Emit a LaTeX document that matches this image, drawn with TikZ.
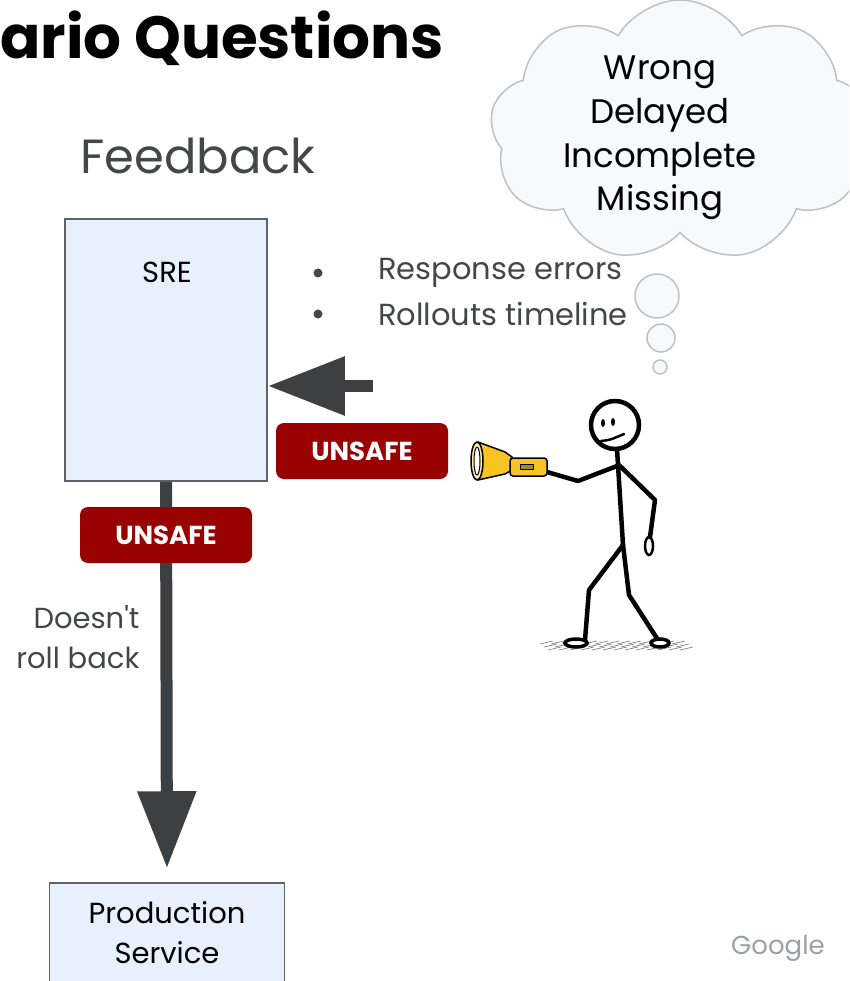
\documentclass[tikz,border=0pt]{standalone}
\usepackage{fontspec}
\setmainfont{Poppins}[Ligatures=TeXOff]
\usetikzlibrary{arrows.meta,shapes.symbols,positioning}

\definecolor{sreblue}{HTML}{E8F0FE}
\definecolor{edgegray}{HTML}{5F6368}
\definecolor{arrowgray}{HTML}{3C4043}
\definecolor{textgray}{HTML}{444746}
\definecolor{unsafered}{HTML}{990000}
\definecolor{cloudfill}{HTML}{F8F9FA}
\definecolor{cloudline}{HTML}{BDC1C6}
\definecolor{logogray}{HTML}{9AA0A6}
\definecolor{torch}{HTML}{F6C521}

\tikzset{
  box/.style={draw=edgegray, line width=1.5pt, fill=sreblue},
  badge/.style={fill=unsafered, rounded corners=8pt, minimum width=172pt,
    minimum height=56pt, text=white, font=\fontsize{26}{30}\selectfont\bfseries},
  flow/.style={draw=arrowgray, line width=12pt, -{Triangle[width=56pt,length=77pt]}},
  stick/.style={line width=4.5pt, line cap=round, line join=round},
  bubble/.style={draw=cloudline, fill=cloudfill, line width=1.5pt},
  gray text/.style={text=textgray, font=\fontsize{29}{40}\selectfont},
}

\begin{document}
\begin{tikzpicture}[x=1pt, y=-1pt]
    \useasboundingbox (0,0) rectangle (849,981);
    \clip (0,0) rectangle (849,981);

    % heading and column title
    \node[anchor=west, inner sep=0, font=\fontsize{59.5}{64}\selectfont\bfseries] (title) at (0,38) {ario Questions};
    \node[text=textgray, font=\fontsize{48}{56}\selectfont] (feedback) at (198,156) {Feedback};

    % boxes
    \node[box, minimum width=202pt, minimum height=262pt] (sre) at (166,350) {};
    \node[font=\fontsize{29}{36}\selectfont] (sretext) at (167,272) {SRE};
    \node[box, minimum width=235pt, minimum height=110pt] (prod) at (167,938) {};
    \node[font=\fontsize{29}{40}\selectfont] (prod1) at (167,913) {Production};
    \node[font=\fontsize{29}{40}\selectfont] (prod2) at (167,953) {Service};

    % arrows
    \coordinate (lamp) at (373,386);
    \draw[flow] (sre.south) -- (prod.north) [shorten >=14pt];
    \draw[flow] (lamp) -- (sre.east |- lamp);

    % badges
    \node[badge] (unsafe1) at (166,535) {UNSAFE};
    \node[badge] (unsafe2) at (362,451) {UNSAFE};

    % side notes
    \node[gray text, align=right, anchor=east] (rollback) at (143,637) {Doesn't\\roll back};
    \fill[textgray] (318,273) circle (4.5pt) (318,314) circle (4.5pt);
    \node[gray text, anchor=west, inner sep=0, font=\fontsize{30.5}{40}\selectfont] (errors) at (378,273) {Response errors};
    \node[gray text, anchor=west, inner sep=0, font=\fontsize{30.5}{40}\selectfont] (timeline) at (378,314) {Rollouts timeline};

    % thought cloud
    \node[cloud, cloud puffs=9, cloud puff arc=120, aspect=1.4, bubble,
          minimum width=380pt, minimum height=262pt, inner sep=0] (cloud) at (680,131) {};
    \node[align=center, font=\fontsize{34}{43.7}\selectfont] (worries) at (660,138)
        {Wrong\\Delayed\\Incomplete\\Missing};
    \draw[bubble] (657,296) circle (22pt);
    \draw[bubble] (661,338) circle (14pt);
    \draw[bubble] (660,367) circle (7pt);

    % ground under the walker
    \foreach \r in {0,1,2} {
        \foreach \i in {0,...,12} {
            \draw[black!55, line width=0.6pt] (540+\i*11+\r*4, 644+\r*3) -- ++(13,-3);
        }
    }

    % stick figure
    \draw[stick] (615,425) circle (24pt);
    \fill (603,423) ellipse (2pt and 4pt) (613,422) ellipse (2pt and 4pt);
    \draw[stick, line width=2.5pt] (601,441) .. controls (610,440) .. (624,434);
    \draw[stick] (617,449) -- (623,545);
    \draw[stick] (617,466) -- (578,481) -- (547,472);
    \draw[stick] (619,465) -- (655,500) -- (650,537);
    \draw[line width=2.5pt] (649,546) ellipse (4pt and 9pt);
    \draw[stick] (623,545) -- (589,590) -- (585,640);
    \draw[stick] (623,545) -- (629,595) -- (658,640);
    \draw[line width=3.5pt, fill=white] (576,643) ellipse (11pt and 4pt);
    \draw[line width=3.5pt, fill=white] (660,643) ellipse (9pt and 4pt);

    % flashlight
    \draw[line width=1.5pt, fill=torch, line join=round]
        (478,442) -- (505,452) -- (512,457) -- (512,470) -- (505,474) -- (478,480) -- cycle;
    \draw[line width=1.5pt, fill=torch, rounded corners=3pt] (510,458) rectangle (547,476);
    \draw[line width=1pt, fill=torch!70!black] (520,464) rectangle (533,469);
    \draw[line width=1.5pt, fill=torch!40] (477,461) ellipse (6pt and 19pt);
    \draw[line width=1pt, fill=white] (477,461) ellipse (3pt and 14pt);

    % logo
    \node[text=logogray, font=\fontsize{26}{30}\selectfont] (logo) at (778,948) {Google};
\end{tikzpicture}
\end{document}
